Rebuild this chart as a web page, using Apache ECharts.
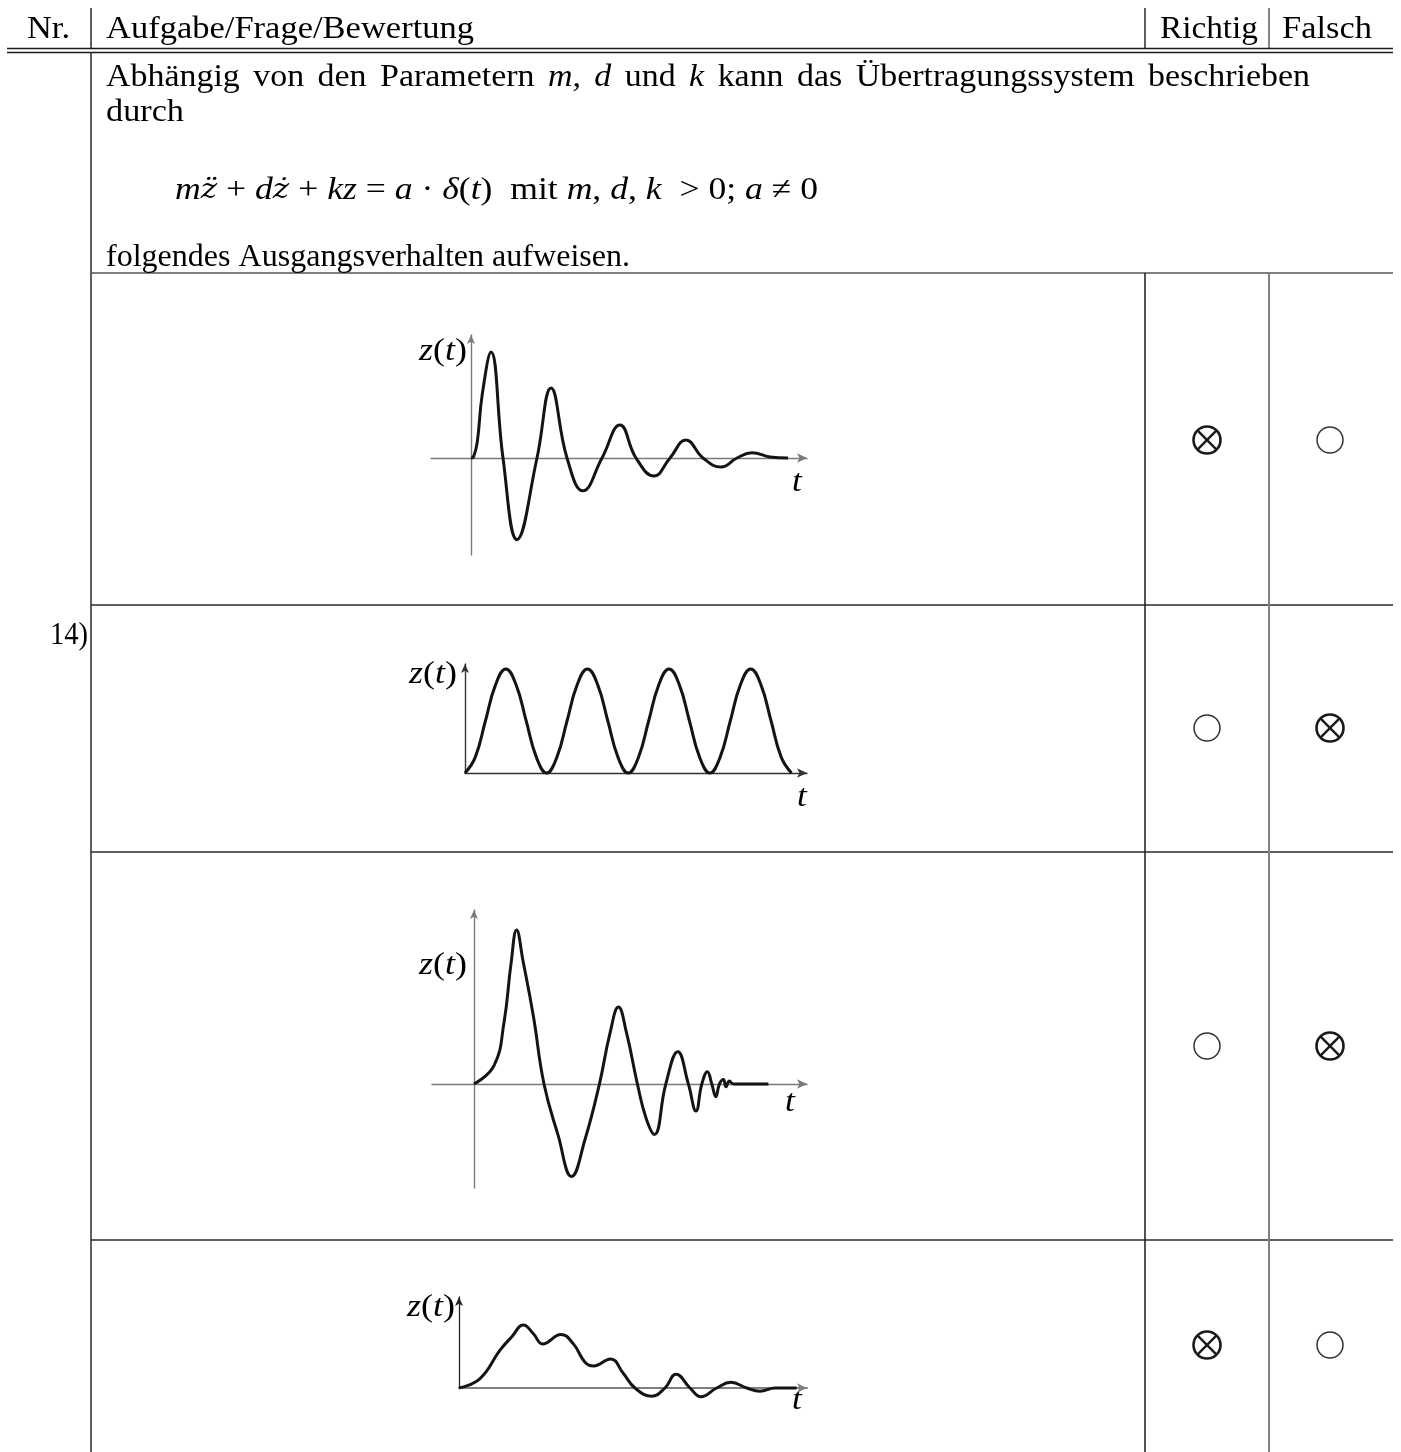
<!DOCTYPE html>
<html><head><meta charset="utf-8">
<script src="https://cdn.jsdelivr.net/npm/echarts@6/dist/echarts.min.js"></script>
<style>html,body{margin:0;padding:0;background:#fff}#c{width:1401px;height:1452px}</style>
</head><body><div id="c"></div>
<script>
// ---------- data ----------
const headerLabels = ['Nr.', 'Aufgabe/Frage/Bewertung', 'Richtig', 'Falsch'];
const questionNo = '14)';
// answers per row: [Richtig, Falsch]  x = crossed, o = empty
const answers = [['x','o'],['o','x'],['o','x'],['x','o']];

// plot 1: decaying oscillation
const plot1T = [0, 0.1, 0.25, 0.45, 0.8, 1.28, 1.84, 2.64, 3.2, 3.84, 4.48, 5.24, 5.96, 6.6, 7.32, 7.96, 8.6, 9.28, 10.0, 10.64, 11.24, 11.96, 12.68];
const plot1Z = [0, 0.01, 0.15, 0.6, 1.0, 0, -0.77, 0, 0.66, 0, -0.31, 0, 0.31, 0, -0.17, 0, 0.17, 0, -0.085, 0, 0.05, 0.01, 0];

// plot 2: undamped (1 - cos) oscillation
const plot2T = [0,0.25,0.5,0.75,1,1.25,1.5,1.75,2,2.25,2.5,2.75,3,3.25,3.5,3.75,4,4.25,4.5,4.75,5,5.25,5.5,5.75,6,6.25,6.5,6.75,7,7.25,7.5,7.75,8];
const plot2Z = [0,0.15,0.5,0.85,1,0.85,0.5,0.15,0,0.15,0.5,0.85,1,0.85,0.5,0.15,0,0.15,0.5,0.85,1,0.85,0.5,0.15,0,0.15,0.5,0.85,1,0.85,0.5,0.15,0];

// plot 3: oscillation with increasing frequency
const plot3T = [0, 1.0, 1.5, 1.85, 2.13, 2.45, 2.97, 3.5, 4.2, 4.88, 5.55, 6.27, 6.8, 7.22, 7.63, 8.17, 8.6, 9.02, 9.59, 10.19, 10.72, 11.1, 11.39, 11.67, 11.89, 12.09, 12.27, 12.47, 12.6, 12.77, 12.97, 14.72];
const plot3Z = [0, 0.12, 0.4, 0.78, 1.0, 0.8, 0.44, 0, -0.33, -0.6, -0.36, 0, 0.33, 0.5, 0.33, 0, -0.22, -0.327, 0, 0.21, 0, -0.175, 0, 0.08, 0, -0.082, 0, 0.03, -0.018, 0.02, 0, 0];

// plot 4: superposed oscillation
const plot4T = [0, 1.05, 2.05, 2.63, 3.22, 3.72, 4.18, 5.1, 5.72, 6.3, 6.72, 7.58, 8.22, 8.8, 9.63, 10.3, 10.85, 11.55, 12.1, 12.88, 13.6, 14.38, 15.05, 15.8, 16.88];
const plot4Z = [0, 0.15, 0.6, 0.81, 1.0, 0.86, 0.70, 0.85, 0.70, 0.41, 0.35, 0.46, 0.23, 0, -0.13, 0, 0.22, 0, -0.14, 0, 0.09, 0, -0.05, 0, 0];

// ---------- layout ----------
const SERIF = '"Liberation Serif", "DejaVu Serif", serif';
const FS = 32;
const BL = 5; // baseline -> middle offset

const zip = (a, b) => a.map((v, i) => [v, b[i]]);
const plots = [
  {t: plot1T, z: plot1Z, grid: {left: 431, top: 335, width: 376, height: 220}, x: [-1.6, 13.44], y: [-0.915, 1.16], axX: '#7a7a7a', axY: '#7a7a7a', wX: 1.4, wY: 1.4, label: [467, 352], tl: [797, 483]},
  {t: plot2T, z: plot2Z, grid: {left: 465, top: 664, width: 342, height: 109}, x: [0, 8.38], y: [0, 1.048], axX: '#333', axY: '#333', wX: 1.4, wY: 1.4, label: [457, 675], tl: [802, 798]},
  {t: plot3T, z: plot3Z, grid: {left: 432, top: 910, width: 375, height: 278}, x: [-2.1, 16.65], y: [-0.675, 1.13], axX: '#7a7a7a', axY: '#7a7a7a', wX: 1.4, wY: 1.4, label: [467, 966], tl: [790, 1103]},
  {t: plot4T, z: plot4Z, grid: {left: 459, top: 1297, width: 348, height: 91}, x: [0, 17.4], y: [0, 1.444], axX: '#808080', axY: '#222', wX: 2, wY: 1.3, label: [455, 1308], tl: [797, 1401]}
];

const richStyles = {
  r: {fontFamily: SERIF, fontSize: FS, color: '#1a1a1a'},
  i: {fontFamily: SERIF, fontSize: FS, fontStyle: 'italic', color: '#1a1a1a'},
  zd: {fontFamily: '"DejaVu Serif", serif', fontSize: 28, fontStyle: 'italic', color: '#1a1a1a'}
};
const ctx = document.createElement('canvas').getContext('2d');
function segWidth(seg) {
  const s = richStyles[seg[1]];
  ctx.font = (s.fontStyle ? 'italic ' : '') + s.fontSize + 'px ' + s.fontFamily;
  return ctx.measureText(seg[0]).width;
}
const segsWidth = segs => segs.reduce((a, s) => a + segWidth(s), 0);
const richStr = segs => segs.map(s => '{' + s[1] + '|' + s[0] + '}').join('');
const R = t => [t, 'r'], I = t => [t, 'i'];

// text stretched to a target width (reference font is wider)
function fitTxt(x0, x1, y, segs, align, isMiddle) {
  const sc = (x1 - x0) / segsWidth(segs);
  return {type: 'text', silent: true, x: align === 'right' ? x1 : (align === 'center' ? (x0 + x1) / 2 : x0),
    y: isMiddle ? y : y - BL, scaleX: sc,
    style: {text: richStr(segs), rich: richStyles, textAlign: align || 'left', textVerticalAlign: 'middle'}};
}
function justify(words, x0, x1, baseline, sc) {
  const widths = words.map(w => segsWidth(w) * sc);
  const total = widths.reduce((a, b) => a + b, 0);
  const gap = (x1 - x0 - total) / (words.length - 1);
  let x = x0; const out = [];
  words.forEach((w, k) => {
    out.push({type: 'text', silent: true, x: x, y: baseline - BL, scaleX: sc,
      style: {text: richStr(w), rich: richStyles, textAlign: 'left', textVerticalAlign: 'middle'}});
    x += widths[k] + gap;
  });
  return out;
}
function line(x1, y1, x2, y2, color, w) {
  return {type: 'line', silent: true, shape: {x1, y1, x2, y2}, style: {stroke: color || '#2a2a2a', lineWidth: w || 1.5}};
}
function mark(cx, cy, kind) {
  if (kind === 'x') {
    const r = 13.5, d = r * Math.SQRT1_2;
    return [
      {type: 'circle', silent: true, shape: {cx, cy, r}, style: {fill: 'none', stroke: '#1a1a1a', lineWidth: 2.6}},
      line(cx - d, cy - d, cx + d, cy + d, '#1a1a1a', 2.4),
      line(cx - d, cy + d, cx + d, cy - d, '#1a1a1a', 2.4)
    ];
  }
  return [{type: 'circle', silent: true, shape: {cx, cy, r: 13}, style: {fill: 'none', stroke: '#333', lineWidth: 1.5}}];
}

const els = [];
// header
els.push(fitTxt(27, 70, 35, [R(headerLabels[0])]));
els.push(fitTxt(106, 474, 35, [R(headerLabels[1])]));
els.push(fitTxt(1160, 1258, 35, [R(headerLabels[2])]));
els.push(fitTxt(1282, 1372, 35, [R(headerLabels[3])]));
els.push(line(91, 8, 91, 48), line(1145, 8, 1145, 48), line(1269, 8, 1269, 48, '#777', 1.8));
els.push(line(7, 48.5, 1393, 48.5, '#1a1a1a', 1.6), line(7, 52.5, 1393, 52.5, '#1a1a1a', 1.6));
// body frame
els.push(line(91, 52, 91, 1452));
els.push(line(91, 273, 1393, 273, '#555', 1.6));
[605, 852, 1240].forEach(y => els.push(line(91, y, 1393, y, '#2a2a2a', 1.5)));
els.push(line(1145, 273, 1145, 1452, '#1a1a1a', 1.5), line(1269, 273, 1269, 1452, '#808080', 2));
// text
els.push(...justify([
  [R('Abhängig')], [R('von')], [R('den')], [R('Parametern')], [I('m'), R(',')], [I('d')],
  [R('und')], [I('k')], [R('kann')], [R('das')], [R('Übertragungssystem')], [R('beschrieben')]
], 106, 1310, 83, 1.06));
els.push(fitTxt(106, 184, 118, [R('durch')]));
els.push(fitTxt(175, 818, 196, [I('m'), ['z\u0308', 'zd'], R(' + '), I('d'), ['z\u0307', 'zd'], R(' + '), I('kz'), R(' = '), I('a'),
  R(' \u00b7 '), I('\u03b4'), R('('), I('t'), R(')  mit '), I('m'), R(', '), I('d'), R(', '), I('k'), R('  > 0; '), I('a'), R(' \u2260 0')]));
els.push(fitTxt(106, 630, 263, [R('folgendes Ausgangsverhalten aufweisen.')]));
els.push(fitTxt(50, 88, 641, [R(questionNo)]));
// marks
const rowCenters = [440, 728, 1046, 1345];
rowCenters.forEach((cy, r) => {
  els.push(...mark(1207, cy, answers[r][0]));
  els.push(...mark(1330, cy, answers[r][1]));
});
// plot labels
plots.forEach(p => {
  els.push(fitTxt(p.label[0] - 48, p.label[0], p.label[1], [I('z'), R('('), I('t'), R(')')], 'right', true));
  els.push({type: 'text', x: p.tl[0], y: p.tl[1], silent: true, scaleX: 1.1,
    style: {text: '{i|t}', rich: richStyles, textAlign: 'center', textVerticalAlign: 'middle'}});
});

const hidden = {axisTick: {show: false}, axisLabel: {show: false}, splitLine: {show: false}};
const option = {
  animation: false,
  backgroundColor: '#fff',
  grid: plots.map(p => Object.assign({containLabel: false}, p.grid)),
  xAxis: plots.map((p, i) => Object.assign({gridIndex: i, type: 'value', min: p.x[0], max: p.x[1]}, hidden,
    {axisLine: {show: true, onZero: true, symbol: ['none', 'arrow'], symbolSize: [7, 10], lineStyle: {color: p.axX, width: p.wX}}})),
  yAxis: plots.map((p, i) => Object.assign({gridIndex: i, type: 'value', min: p.y[0], max: p.y[1]}, hidden,
    {axisLine: {show: true, onZero: true, symbol: ['none', 'arrow'], symbolSize: [6, 9], lineStyle: {color: p.axY, width: p.wY}}})),
  series: plots.map((p, i) => ({
    type: 'line', xAxisIndex: i, yAxisIndex: i, data: zip(p.t, p.z), showSymbol: false, symbol: 'none',
    smooth: 0.45, clip: false, lineStyle: {color: '#141414', width: 3}, silent: true
  })),
  graphic: {elements: els}
};
const chart = echarts.init(document.getElementById('c'), null, {renderer: 'canvas'});
chart.setOption(option);
</script>
</body></html>
